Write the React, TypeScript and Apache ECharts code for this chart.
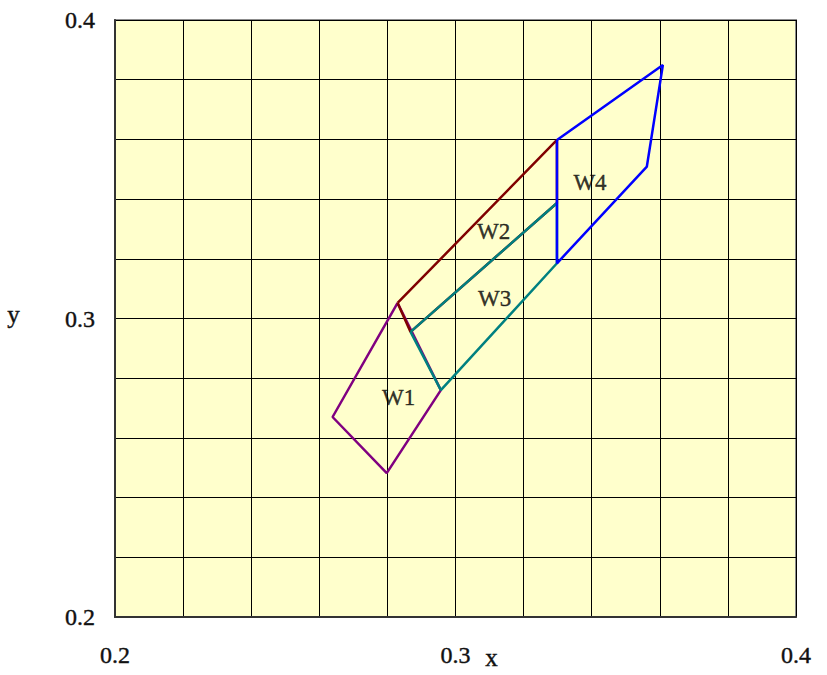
import React, { useEffect, useRef } from "react";
import * as echarts from "echarts";

const xTicks = [0.2, 0.3, 0.4];
const yTicks = [0.2, 0.3, 0.4];

const w1Points: [number, number][] = [
  [0.283, 0.3052],
  [0.2639, 0.267],
  [0.2798, 0.2482],
  [0.2957, 0.276],
  [0.283, 0.3052],
];
const w2Points: [number, number][] = [
  [0.283, 0.3052],
  [0.3298, 0.3598],
  [0.3298, 0.3387],
  [0.2868, 0.2955],
  [0.283, 0.3052],
];
const w3Points: [number, number][] = [
  [0.2868, 0.2955],
  [0.3298, 0.3387],
  [0.3298, 0.3185],
  [0.2957, 0.276],
  [0.2868, 0.2955],
];
const w4Points: [number, number][] = [
  [0.3298, 0.3598],
  [0.3609, 0.3849],
  [0.3562, 0.3509],
  [0.3298, 0.3185],
  [0.3298, 0.3598],
];

const regionNames = ["W1", "W2", "W3", "W4"];
const labelPositions: [number, number][] = [
  [0.2833, 0.2734],
  [0.3112, 0.3293],
  [0.3115, 0.3066],
  [0.3395, 0.3454],
];

const colors = ["#800080", "#800000", "#008080", "#0000ff"];
const serif = "Liberation Serif";

export default function App() {
  const ref = useRef<HTMLDivElement>(null);
  useEffect(() => {
    document.body.style.margin = "0";
    const chart = echarts.init(ref.current!, undefined, { renderer: "svg" });
    const polys = [w1Points, w2Points, w3Points, w4Points];
    const fmt = (ticks: number[]) => (v: number) => {
      const hit = ticks.find((t) => Math.abs(t - v) < 1e-9);
      return hit !== undefined ? hit.toFixed(1) : "";
    };
    const heavy = { textBorderColor: "#111", textBorderWidth: 0.4 };
    chart.setOption({
      animation: false,
      grid: {
        left: 115,
        top: 20,
        width: 681,
        height: 597,
        show: true,
        backgroundColor: "#ffffcc",
        borderColor: "#8c8c8c",
        borderWidth: 2,
      },
      xAxis: {
        type: "value",
        min: 0.2,
        max: 0.4,
        interval: 0.02,
        axisLine: { show: true, onZero: false, lineStyle: { color: "#333", width: 2 } },
        axisTick: { show: false },
        splitLine: { show: true, lineStyle: { color: "#000", width: 1 } },
        axisLabel: {
          margin: 26,
          fontFamily: serif,
          fontSize: 24,
          color: "#111",
          ...heavy,
          formatter: fmt(xTicks),
        },
      },
      yAxis: {
        type: "value",
        min: 0.2,
        max: 0.4,
        interval: 0.02,
        axisLine: { show: true, onZero: false, lineStyle: { color: "#333", width: 2 } },
        axisTick: { show: false },
        splitLine: { show: true, lineStyle: { color: "#000", width: 1 } },
        axisLabel: {
          margin: 20,
          fontFamily: serif,
          fontSize: 24,
          color: "#111",
          ...heavy,
          formatter: fmt(yTicks),
        },
      },
      graphic: [
        {
          type: "text",
          left: 485,
          top: 645,
          style: { text: "x", fontFamily: serif, fontSize: 25, fill: "#111", stroke: "#111", lineWidth: 0.4 },
        },
        {
          type: "text",
          left: 7,
          top: 302,
          style: { text: "y", fontFamily: serif, fontSize: 25, fill: "#111", stroke: "#111", lineWidth: 0.4 },
        },
      ],
      series: [
        ...polys.map((pts, i) => ({
          type: "line",
          name: regionNames[i],
          data: pts,
          showSymbol: false,
          symbol: "none",
          lineStyle: { color: colors[i], width: 2.5 },
          z: 2 + i,
        })),
        {
          type: "scatter",
          symbolSize: 0,
          data: labelPositions.map((p, i) => ({ value: p, name: regionNames[i] })),
          label: {
            show: true,
            position: "inside",
            formatter: (p: any) => p.name,
            fontFamily: serif,
            fontSize: 23,
            color: "#000",
            textBorderColor: "#000",
            textBorderWidth: 0.4,
          },
          z: 10,
        },
      ],
    });
    return () => chart.dispose();
  }, []);
  return <div ref={ref} style={{ width: 827, height: 675 }} />;
}
